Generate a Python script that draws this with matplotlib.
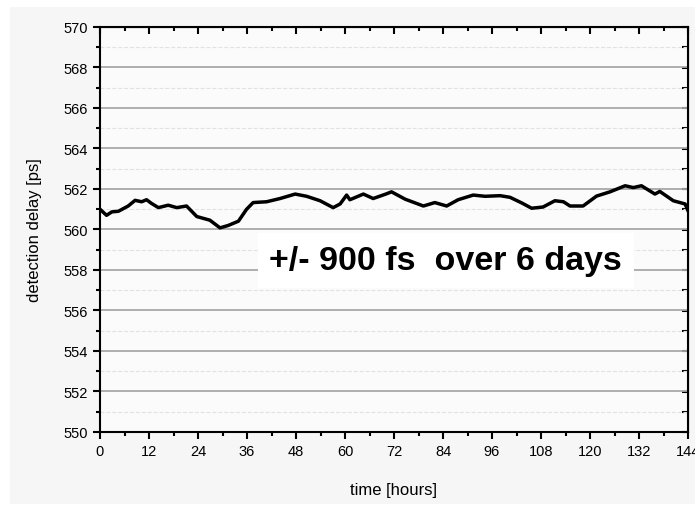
import matplotlib.pyplot as plt
from matplotlib.patches import Rectangle
from matplotlib.ticker import MultipleLocator

plt.rcParams['font.family'] = ['Liberation Sans', 'DejaVu Sans']

# time [hours] and detection delay [ps]
hours = [0, 1.6, 2.9, 4.5, 6.9, 8.6, 10.2, 11.4, 12.6, 14.3, 16.7, 18.8, 21.2,
         23.7, 26.9, 29.4, 31.4, 33.9, 35.9, 37.5, 40.8, 44.1, 47.8, 50.6,
         53.9, 57.1, 58.8, 60.4, 61.2, 64.5, 66.9, 70.0, 71.4, 74.7, 79.2,
         82.0, 84.9, 87.7, 91.4, 94.3, 98.0, 100.4, 103.3, 105.7, 108.5,
         111.4, 113.5, 115.1, 118.3, 121.6, 124.9, 128.6, 130.6, 132.6, 135.9,
         137.1, 140.4, 143.3, 144]
delay = [561.0, 560.7, 560.87, 560.9, 561.16, 561.44, 561.37, 561.47, 561.29,
         561.08, 561.2, 561.08, 561.16, 560.64, 560.46, 560.08, 560.2, 560.41,
         561.0, 561.33, 561.37, 561.53, 561.75, 561.64, 561.42, 561.08, 561.26,
         561.7, 561.47, 561.75, 561.53, 561.75, 561.86, 561.5, 561.16, 561.33,
         561.16, 561.47, 561.7, 561.64, 561.67, 561.59, 561.31, 561.05, 561.11,
         561.42, 561.37, 561.16, 561.16, 561.65, 561.86, 562.16, 562.07, 562.16,
         561.75, 561.88, 561.42, 561.26, 560.93]

label_text = "+/- 900 fs  over 6 days"

fig = plt.figure(figsize=(6.95, 5.1), dpi=100, facecolor='white')
fig.patches.append(Rectangle((10 / 695, 5 / 510), 685 / 695, 497 / 510,
                             transform=fig.transFigure, facecolor='#f6f6f6',
                             edgecolor='none', zorder=-1))
ax = fig.add_axes([100 / 695, 1 - 433 / 510, 588 / 695, 405 / 510])
ax.set_facecolor('#fbfbfb')

ax.plot(hours, delay, color='black', lw=2.5, zorder=3)

ax.set_xlim(0, 144)
ax.set_ylim(550, 570)
ax.xaxis.set_major_locator(MultipleLocator(12))
ax.xaxis.set_minor_locator(MultipleLocator(6))
ax.yaxis.set_major_locator(MultipleLocator(2))
ax.yaxis.set_minor_locator(MultipleLocator(1))

ax.grid(axis='y', which='major', color='#a8a8a8', lw=1.3)
ax.grid(axis='y', which='minor', color='#e2e2e2', lw=0.8, ls='--')
ax.set_axisbelow(True)

for s in ax.spines.values():
    s.set_linewidth(1.5)
ax.tick_params(which='major', direction='out', length=5, width=1.5,
               labelsize=10.5, colors='black', pad=4)
ax.tick_params(which='minor', direction='out', length=3, width=1.5)

top = ax.secondary_xaxis('top')
top.xaxis.set_major_locator(MultipleLocator(12))
top.xaxis.set_minor_locator(MultipleLocator(6))
top.tick_params(which='major', direction='in', length=5, width=1.5, labeltop=False)
top.tick_params(which='minor', direction='in', length=3, width=1.5)
right = ax.secondary_yaxis('right')
right.yaxis.set_major_locator(MultipleLocator(2))
right.yaxis.set_minor_locator(MultipleLocator(1))
right.tick_params(which='major', direction='in', length=4, width=1.5, labelright=False)
right.tick_params(which='minor', direction='in', length=4, width=1.5)

ax.set_xlabel('time [hours]', fontsize=12, labelpad=17)
ax.set_ylabel('detection delay [ps]', fontsize=12, labelpad=15)

ax.text(84.7, 558.45, label_text, fontsize=24.5, fontweight='bold',
        ha='center', va='center', zorder=4,
        bbox=dict(boxstyle='square,pad=0.35', facecolor='white', edgecolor='none'))

fig.savefig('out.png', dpi=100, facecolor=fig.get_facecolor())
